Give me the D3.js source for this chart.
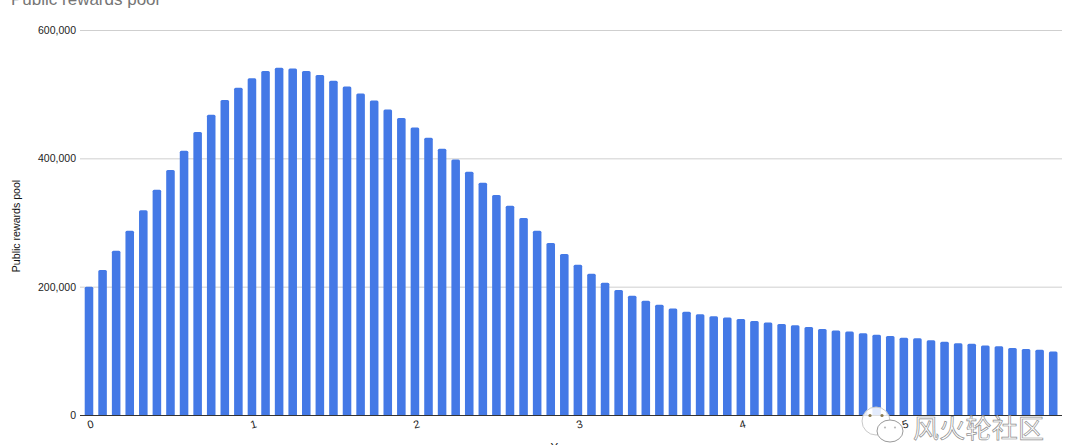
<!DOCTYPE html>
<html><head><meta charset="utf-8">
<style>html,body{margin:0;padding:0;background:#fff;overflow:hidden}svg{display:block}text{font-family:"Liberation Sans",Arial,sans-serif}</style>
<script src="https://cdn.jsdelivr.net/npm/d3@7/dist/d3.min.js"></script>
</head><body><svg id="c" width="1080" height="445"></svg>
<script>
const chartTitle = "Public rewards pool";
const yTitle = "Public rewards pool";
const xTitle = "Year";
const yTicks = [0, 200000, 400000, 600000];
const yearTicks = [0, 1, 2, 3, 4, 5];
const monthsPerYear = 12;
const values = [
200000,226000,256000,287000,319000,351000,382000,412000,441000,468000,491000,510000,
525000,536000,541000,540000,536000,530000,521000,512000,501000,490000,476000,463000,
448000,432000,415000,398000,379000,362000,343000,326000,307000,287000,268000,251000,
234000,220000,206000,195000,186000,178000,172000,166000,161000,157000,154000,152000,
149500,146500,144000,142000,140000,137000,134000,131500,130000,127500,125000,123000,
120500,119500,116500,114000,112000,111000,108500,107000,104500,103000,101500,99000];

const svg = d3.select("#c");
const y = d3.scaleLinear().domain([0,600000]).range([415,30]);
const x = d3.scaleBand().domain(d3.range(values.length)).range([82.2,1060]).paddingInner(0.37).paddingOuter(0.185);

svg.append("text").attr("x",11).attr("y",4.5).attr("font-size",17).attr("fill","#757575").text(chartTitle);

const yAxis = d3.axisLeft(y).tickValues(yTicks).tickSize(0).tickPadding(4).tickFormat(d3.format(","));
const gy = svg.append("g").attr("transform","translate(80,0)").call(yAxis);
gy.select(".domain").remove();
gy.selectAll("text").attr("font-size",10.5).attr("fill","#222").style("font-family",'"Liberation Sans",Arial,sans-serif');
svg.append("g").selectAll("line").data(yTicks.filter(d=>d>0)).join("line")
  .attr("x1",80).attr("x2",1062).attr("y1",d=>y(d)+.5).attr("y2",d=>y(d)+.5).attr("stroke","#cfcfcf").attr("stroke-width",1);

svg.append("g").selectAll("path").data(values).join("path").attr("fill","#4479e6")
  .attr("d",(d,i)=>{const l=x(i),w=x.bandwidth(),t=y(d),b=y(0),r=1.5;
    return `M${l},${b}V${t+r}Q${l},${t} ${l+r},${t}H${l+w-r}Q${l+w},${t} ${l+w},${t+r}V${b}Z`;});

svg.append("line").attr("x1",80).attr("x2",1062).attr("y1",415.5).attr("y2",415.5).attr("stroke","#333").attr("stroke-width",1);

const gx = svg.append("g");
gx.selectAll("text").data(yearTicks).join("text")
  .attr("font-size",11).attr("fill","#222").attr("text-anchor","middle")
  .attr("transform",d=>`translate(${x(d*monthsPerYear)+x.bandwidth()/2+2.5},428) rotate(-15)`).text(d=>d);

svg.append("text").attr("x",562).attr("y",451).attr("text-anchor","middle").attr("font-size",11.5).attr("fill","#222").text(xTitle);
svg.append("text").attr("transform","translate(20,226) rotate(-90)").attr("text-anchor","middle").attr("font-size",10.6).attr("fill","#111").text(yTitle);

// watermark
const wm = svg.append("g");
wm.append("ellipse").attr("cx",876).attr("cy",421).attr("rx",14).attr("ry",14).attr("fill","#fff").attr("fill-opacity",.85).attr("stroke","#c9c9c9").attr("stroke-width",1);
wm.append("circle").attr("cx",870).attr("cy",415.5).attr("r",1.6).attr("fill","#8a7a50");
wm.append("circle").attr("cx",882).attr("cy",415.5).attr("r",1.6).attr("fill","#8a7a50");
wm.append("ellipse").attr("cx",890).attr("cy",431).attr("rx",13).attr("ry",11).attr("fill","#fff").attr("stroke","#9a9a9a").attr("stroke-width",1);
wm.append("circle").attr("cx",885).attr("cy",427.5).attr("r",1.1).attr("fill","#bbb");
wm.append("circle").attr("cx",895).attr("cy",427.5).attr("r",1.1).attr("fill","#bbb");
wm.append("text").attr("x",913).attr("y",438).attr("font-size",26).attr("fill","#fff").attr("fill-opacity",.75).attr("stroke","#8f8f8f").attr("stroke-width",.7)
  .style("font-family",'"Noto Sans CJK SC"').attr("textLength",131).text("风火轮社区");
</script></body></html>
